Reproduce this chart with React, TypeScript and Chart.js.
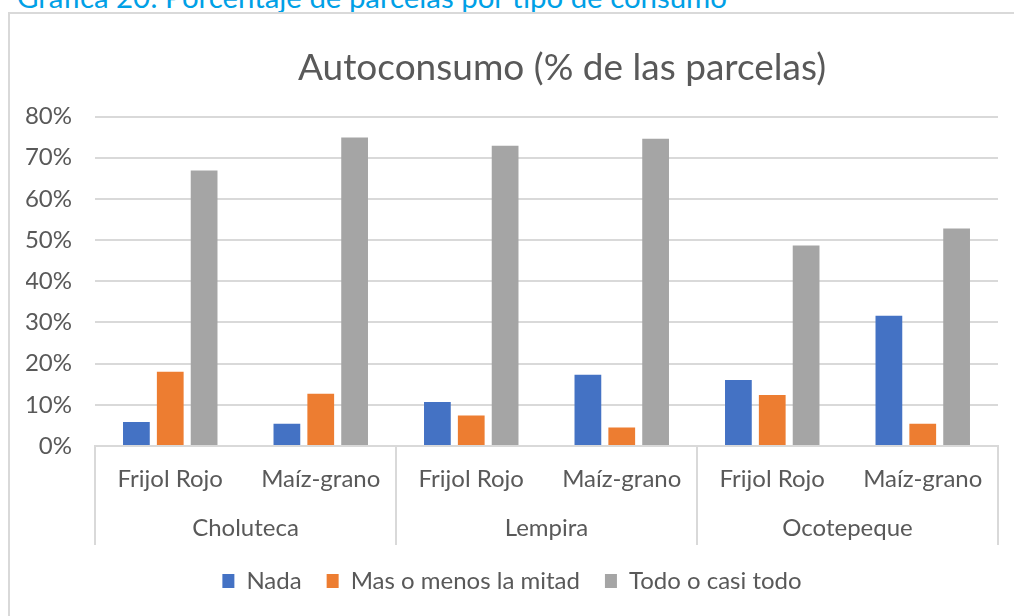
import React, { useEffect, useRef } from "react";
import { Chart, registerables } from "chart.js";

Chart.register(...registerables);

const FONT = "Lato, sans-serif";
const TEXT = "#595959";
const GRID = "#D9D9D9";

const categories = ["Frijol Rojo", "Maíz-grano", "Frijol Rojo", "Maíz-grano", "Frijol Rojo", "Maíz-grano"];
const groups = ["Choluteca", "Lempira", "Ocotepeque"];
const seriesNames = ["Nada", "Mas o menos la mitad", "Todo o casi todo"];
const nada = [5.8, 5.4, 10.7, 17.3, 16.0, 31.6];
const mitad = [18.0, 12.7, 7.4, 4.5, 12.4, 5.4];
const todo = [66.9, 74.9, 72.9, 74.6, 48.7, 52.8];
const seriesColors = ["#4472C4", "#ED7D31", "#A5A5A5"];
const yTicks = [0, 10, 20, 30, 40, 50, 60, 70, 80];

const titleText = "Autoconsumo (% de las parcelas)";
const captionText = "Gráfica 20: Porcentaje de parcelas por tipo de consumo";

const titleShift = {
  id: "titleShift",
  afterLayout(chart: any) {
    const t = chart.titleBlock;
    if (t) {
      t.left += 50;
      t.right += 50;
    }
  },
};

export default function App() {
  const ref = useRef<HTMLCanvasElement | null>(null);

  useEffect(() => {
    if (!ref.current) return;
    const values = [nada, mitad, todo];
    const chart = new Chart(ref.current, {
      type: "bar",
      data: {
        labels: categories,
        datasets: seriesNames.map((name, i) => ({
          label: name,
          data: values[i],
          backgroundColor: seriesColors[i],
          borderWidth: 0,
          categoryPercentage: 0.675,
          barPercentage: 0.79,
        })),
      },
      plugins: [titleShift],
      options: {
        responsive: false,
        animation: false,
        layout: { padding: { left: 16, right: 16, top: 0, bottom: 0 } },
        plugins: {
          tooltip: { enabled: false },
          title: {
            display: true,
            text: titleText,
            color: TEXT,
            font: { family: FONT, size: 37, weight: "normal" },
            padding: { top: 31.8, bottom: 26.3 },
          },
          legend: {
            position: "bottom",
            labels: {
              color: TEXT,
              font: { family: FONT, size: 24 },
              boxWidth: 12,
              boxHeight: 14,
              padding: 25,
            },
          },
        },
        scales: {
          y: {
            min: 0,
            max: 80,
            afterBuildTicks: (scale: any) => {
              scale.ticks = yTicks.map((v) => ({ value: v }));
            },
            afterFit: (scale: any) => {
              scale.width = 69;
            },
            ticks: {
              color: TEXT,
              font: { family: FONT, size: 24 },
              padding: 23,
              callback: (v: any) => v + "%",
            },
            grid: { color: GRID, lineWidth: 2, drawTicks: false },
            border: { display: false },
          },
          x: {
            type: "category",
            position: "bottom",
            offset: true,
            afterFit: (scale: any) => {
              scale.height = 60;
            },
            ticks: {
              color: TEXT,
              font: { family: FONT, size: 24 },
              padding: -41.4,
              maxRotation: 0,
              autoSkip: false,
            },
            grid: {
              drawOnChartArea: false,
              drawTicks: true,
              tickLength: 60,
              lineWidth: 2,
              offset: true,
              color: (c: any) => (c.type !== "tick" || c.index % 2 === 0 ? GRID : "rgba(0,0,0,0)"),
            },
            border: { display: true, color: GRID, width: 2 },
          },
          x2: {
            type: "category",
            position: "bottom",
            labels: groups,
            offset: true,
            afterFit: (scale: any) => {
              scale.height = 38;
            },
            ticks: {
              color: TEXT,
              font: { family: FONT, size: 24 },
              padding: -31.4,
              maxRotation: 0,
              autoSkip: false,
            },
            grid: {
              drawOnChartArea: false,
              drawTicks: true,
              tickLength: 39,
              lineWidth: 2,
              offset: true,
              color: GRID,
            },
            border: { display: false },
          },
        },
      } as any,
    });
    return () => chart.destroy();
  }, []);

  return (
    <div
      style={{
        position: "fixed",
        left: 0,
        top: 0,
        width: 1014,
        height: 616,
        overflow: "hidden",
        background: "#ffffff",
      }}
    >
      <div
        style={{
          position: "absolute",
          left: 17,
          top: -18.4,
          fontFamily: FONT,
          fontSize: 29.4,
          lineHeight: "29.4px",
          color: "#00A0E6",
          whiteSpace: "nowrap",
        }}
      >
        {captionText}
      </div>
      <div
        style={{
          position: "absolute",
          left: 8,
          top: 12,
          width: 1100,
          height: 700,
          border: `2px solid ${GRID}`,
          background: "#ffffff",
        }}
      />
      <canvas
        ref={ref}
        width={1004}
        height={589}
        style={{ position: "absolute", left: 10, top: 14, width: 1004, height: 589 }}
      />
    </div>
  );
}
